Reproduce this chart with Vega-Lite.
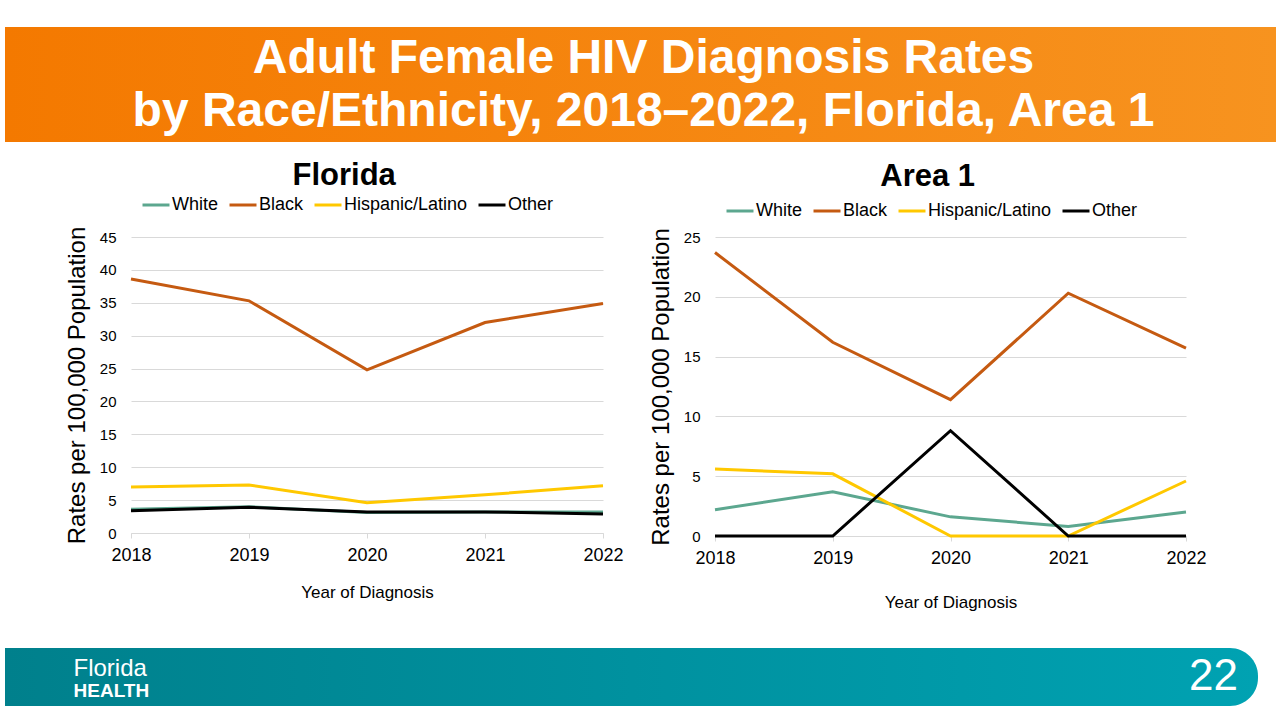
{
  "$schema": "https://vega.github.io/schema/vega-lite/v6.json",
  "background": "white",
  "padding": {"left": 5, "top": 27, "right": 5, "bottom": 5},
  "config": {
    "font": "Liberation Sans",
    "view": {"stroke": null},
    "title": {"font": "Liberation Sans", "color": "black"},
    "axis": {"labelColor": "black", "titleColor": "black", "labelFont": "Liberation Sans", "titleFont": "Liberation Sans"},
    "legend": {"labelFont": "Liberation Sans", "labelColor": "black"}
  },
  "datasets": {
    "florida": [
      {"year": 2018, "race": "White", "rate": 3.6},
      {"year": 2019, "race": "White", "rate": 4.0},
      {"year": 2020, "race": "White", "rate": 3.1},
      {"year": 2021, "race": "White", "rate": 3.2},
      {"year": 2022, "race": "White", "rate": 3.2},
      {"year": 2018, "race": "Black", "rate": 38.6},
      {"year": 2019, "race": "Black", "rate": 35.3},
      {"year": 2020, "race": "Black", "rate": 24.8},
      {"year": 2021, "race": "Black", "rate": 32.0},
      {"year": 2022, "race": "Black", "rate": 34.9},
      {"year": 2018, "race": "Hispanic/Latino", "rate": 7.0},
      {"year": 2019, "race": "Hispanic/Latino", "rate": 7.3},
      {"year": 2020, "race": "Hispanic/Latino", "rate": 4.6},
      {"year": 2021, "race": "Hispanic/Latino", "rate": 5.8},
      {"year": 2022, "race": "Hispanic/Latino", "rate": 7.2},
      {"year": 2018, "race": "Other", "rate": 3.4},
      {"year": 2019, "race": "Other", "rate": 3.9},
      {"year": 2020, "race": "Other", "rate": 3.2},
      {"year": 2021, "race": "Other", "rate": 3.2},
      {"year": 2022, "race": "Other", "rate": 2.9}
    ],
    "area1": [
      {"year": 2018, "race": "White", "rate": 2.2},
      {"year": 2019, "race": "White", "rate": 3.7},
      {"year": 2020, "race": "White", "rate": 1.6},
      {"year": 2021, "race": "White", "rate": 0.8},
      {"year": 2022, "race": "White", "rate": 2.0},
      {"year": 2018, "race": "Black", "rate": 23.7},
      {"year": 2019, "race": "Black", "rate": 16.2},
      {"year": 2020, "race": "Black", "rate": 11.4},
      {"year": 2021, "race": "Black", "rate": 20.3},
      {"year": 2022, "race": "Black", "rate": 15.7},
      {"year": 2018, "race": "Hispanic/Latino", "rate": 5.6},
      {"year": 2019, "race": "Hispanic/Latino", "rate": 5.2},
      {"year": 2020, "race": "Hispanic/Latino", "rate": 0},
      {"year": 2021, "race": "Hispanic/Latino", "rate": 0},
      {"year": 2022, "race": "Hispanic/Latino", "rate": 4.6},
      {"year": 2018, "race": "Other", "rate": 0},
      {"year": 2019, "race": "Other", "rate": 0},
      {"year": 2020, "race": "Other", "rate": 8.8},
      {"year": 2021, "race": "Other", "rate": 0},
      {"year": 2022, "race": "Other", "rate": 0}
    ]
  },
  "spacing": 18,
  "resolve": {"scale": {"color": "independent"}, "legend": {"color": "independent"}},
  "vconcat": [
    {
      "width": 1271,
      "height": 115,
      "data": {"values": [
        {"line": 1, "text": "Adult Female HIV Diagnosis Rates"},
        {"line": 2, "text": "by Race/Ethnicity, 2018–2022, Florida, Area 1"}
      ]},
      "layer": [
        {
          "mark": {"type": "rect", "fill": {"gradient": "linear", "x1": 0, "x2": 1, "y1": 0, "y2": 0, "stops": [{"offset": 0, "color": "#F47900"}, {"offset": 1, "color": "#F7931F"}]}},
          "encoding": {}
        },
        {
          "mark": {"type": "text", "color": "white", "fontSize": 48, "fontWeight": "bold", "baseline": "middle", "align": "center", "dx": 3},
          "encoding": {
            "y": {"field": "line", "type": "ordinal", "scale": {"type": "point", "padding": 0.595, "align": 0.517}, "axis": null},
            "text": {"field": "text"}
          }
        }
      ]
    },
    {
      "spacing": 38,
      "resolve": {"scale": {"color": "independent"}, "legend": {"color": "independent"}},
      "vconcat": [
        {
          "spacing": 25,
          "resolve": {"scale": {"color": "independent"}, "legend": {"color": "independent"}},
          "hconcat": [
            {
              "width": 35,
              "height": 10,
              "data": {"values": [{"s": 1}]},
              "mark": {"type": "rect", "fill": "white"},
              "encoding": {}
            },
            {
              "width": 472,
              "height": 296,
              "title": {"text": "Florida", "fontSize": 31, "fontWeight": "bold", "offset": -12, "frame": "bounds", "anchor": "middle"},
              "data": {"name": "florida"},
              "mark": {"type": "line", "strokeWidth": 3},
              "encoding": {
                "x": {"field": "year", "type": "ordinal", "scale": {"type": "point", "padding": 0},
                  "axis": {"title": "Year of Diagnosis", "labelAngle": 0, "labelFontSize": 18, "titleFontSize": 17, "titleFontWeight": "normal", "domainColor": "#d9d9d9", "tickColor": "#d9d9d9", "tickSize": 5, "labelPadding": 8, "titlePadding": 20, "grid": false}},
                "y": {"field": "rate", "type": "quantitative", "scale": {"domain": [0, 45], "nice": false},
                  "axis": {"values": [0, 5, 10, 15, 20, 25, 30, 35, 40, 45], "title": "Rates per 100,000 Population", "titleFontSize": 24, "titleFontWeight": "normal", "labelFontSize": 15, "domain": false, "ticks": false, "gridColor": "#d9d9d9", "labelPadding": 15, "titlePadding": 10}},
                "color": {"field": "race", "type": "nominal",
                  "scale": {"domain": ["White", "Black", "Hispanic/Latino", "Other"], "range": ["#5CA78F", "#C55A11", "#FFC800", "#000000"]},
                  "legend": {"title": null, "orient": "top", "direction": "horizontal", "symbolType": "stroke", "symbolStrokeWidth": 3, "symbolSize": 729, "labelFontSize": 18, "labelOffset": 1, "columnPadding": 4, "padding": 10, "offset": 13}}
              }
            },
            {
              "width": 471,
              "height": 299,
              "title": {"text": "Area 1", "fontSize": 31, "fontWeight": "bold", "offset": -7, "frame": "bounds", "anchor": "middle"},
              "data": {"name": "area1"},
              "mark": {"type": "line", "strokeWidth": 3},
              "encoding": {
                "x": {"field": "year", "type": "ordinal", "scale": {"type": "point", "padding": 0},
                  "axis": {"title": "Year of Diagnosis", "labelAngle": 0, "labelFontSize": 18, "titleFontSize": 17, "titleFontWeight": "normal", "domainColor": "#d9d9d9", "tickColor": "#d9d9d9", "tickSize": 5, "labelPadding": 8, "titlePadding": 27, "grid": false}},
                "y": {"field": "rate", "type": "quantitative", "scale": {"domain": [0, 25], "nice": false},
                  "axis": {"values": [0, 5, 10, 15, 20, 25], "title": "Rates per 100,000 Population", "titleFontSize": 24, "titleFontWeight": "normal", "labelFontSize": 15, "domain": false, "ticks": false, "gridColor": "#d9d9d9", "labelPadding": 15, "titlePadding": 10}},
                "color": {"field": "race", "type": "nominal",
                  "scale": {"domain": ["White", "Black", "Hispanic/Latino", "Other"], "range": ["#5CA78F", "#C55A11", "#FFC800", "#000000"]},
                  "legend": {"title": null, "orient": "top", "direction": "horizontal", "symbolType": "stroke", "symbolStrokeWidth": 3, "symbolSize": 729, "labelFontSize": 18, "labelOffset": 1, "columnPadding": 4, "padding": 10, "offset": 7}}
              }
            }
          ]
        },
        {
          "width": 1253,
          "height": 58,
          "layer": [
            {
              "data": {"values": [{"part": "band"}]},
              "mark": {"type": "rect", "fill": {"gradient": "linear", "x1": 0, "x2": 1, "y1": 0, "y2": 0, "stops": [{"offset": 0, "color": "#00808C"}, {"offset": 1, "color": "#00A2B2"}]}, "cornerRadiusTopRight": 28, "cornerRadiusBottomRight": 28},
              "encoding": {}
            },
            {
              "data": {"values": [{"slot": "logo", "label": "Florida"}]},
              "mark": {"type": "text", "align": "left", "baseline": "alphabetic", "fontSize": 24, "fontWeight": "normal", "dy": -1, "color": "white"},
              "encoding": {
                "x": {"field": "slot", "type": "nominal", "scale": {"type": "point", "domain": ["logo", "page"], "padding": 0.0496, "align": 0.606}, "axis": null},
                "text": {"field": "label"}
              }
            },
            {
              "data": {"values": [{"slot": "logo", "label": "HEALTH"}]},
              "mark": {"type": "text", "align": "left", "baseline": "alphabetic", "fontSize": 19, "fontWeight": "bold", "dy": 20, "color": "white"},
              "encoding": {
                "x": {"field": "slot", "type": "nominal", "axis": null},
                "text": {"field": "label"}
              }
            },
            {
              "data": {"values": [{"slot": "page", "label": "22"}]},
              "mark": {"type": "text", "align": "center", "baseline": "middle", "fontSize": 44, "color": "white"},
              "encoding": {
                "x": {"field": "slot", "type": "nominal", "axis": null},
                "text": {"field": "label"}
              }
            }
          ]
        }
      ]
    }
  ]
}
